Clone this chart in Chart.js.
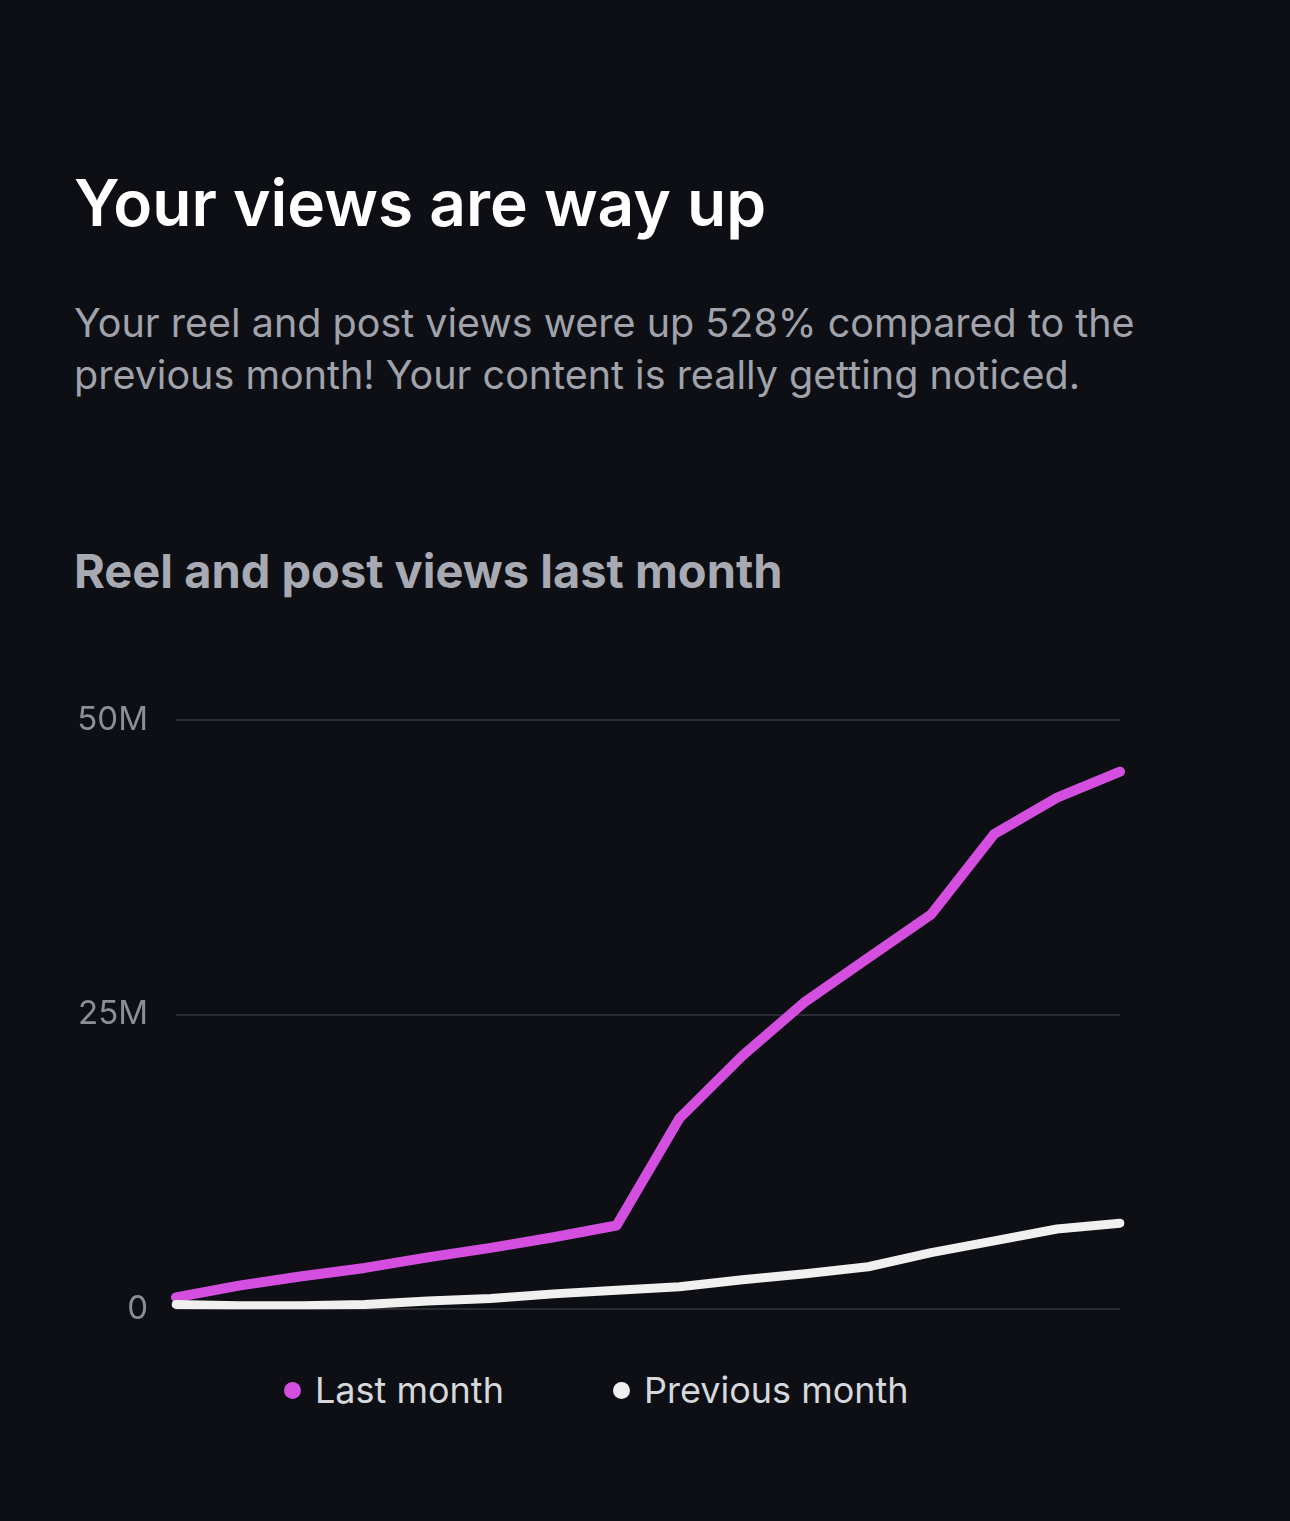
<!DOCTYPE html>
<html>
<head>
<meta charset="utf-8">
<script src="https://cdn.jsdelivr.net/npm/chart.js@4/dist/chart.umd.min.js"></script>
<style>
  html, body { margin: 0; padding: 0; background: #0e0f14; }
  body { width: 1290px; height: 1521px; position: relative; overflow: hidden; font-family: Inter, "Noto Sans", sans-serif; }
  .title { position: absolute; left: 74px; top: 164px; font-size: 64px; font-weight: 600; color: #ffffff; letter-spacing: 0px; }
  .sub { position: absolute; left: 74px; top: 297px; width: 1190px; font-size: 39.5px; line-height: 52px; color: #a0a3ab; }
  .heading { position: absolute; left: 74px; top: 542px; font-size: 47px; font-weight: 700; color: #a7aab2; letter-spacing: 0px; }
  #wrap { position: absolute; left: 0; top: 672px; width: 1290px; height: 685px; }
  .legend { position: absolute; top: 1368px; font-size: 36px; color: #d6d8dc; }
  .legend span.dot { display: inline-block; width: 17px; height: 17px; border-radius: 50%; margin-right: 14px; vertical-align: middle; position: relative; top: -3px; }
</style>
</head>
<body>
<div class="title">Your views are way up</div>
<div class="sub">Your reel and post views were up 528% compared to the previous month! Your content is really getting noticed.</div>
<div class="heading">Reel and post views last month</div>
<div id="wrap"><canvas id="myChart"></canvas></div>
<div class="legend" style="left:284px"><span class="dot" style="background:#d44fe0"></span>Last month</div>
<div class="legend" style="left:613px"><span class="dot" style="background:#f0f0f0"></span>Previous month</div>
<script>
const days = ["1","2","3","4","5","6","7","8","9","10","11","12","13","14","15","16"];
const lastMonth = [1.0, 2.0, 2.8, 3.5, 4.4, 5.2, 6.1, 7.1, 16.2, 21.5, 26.1, 29.8, 33.5, 40.3, 43.4, 45.6];
const previousMonth = [0.4, 0.3, 0.3, 0.4, 0.7, 0.9, 1.3, 1.6, 1.9, 2.5, 3.0, 3.6, 4.8, 5.8, 6.8, 7.3];
const tickLabels = { 0: "0", 25: "25M", 50: "50M" };

const ctx = document.getElementById("myChart").getContext("2d");
const myChart = new Chart(ctx, {
  type: "line",
  data: {
    labels: days,
    datasets: [
      { label: "Previous month", data: previousMonth, borderColor: "#f0f0f0", borderWidth: 9, pointRadius: 0, borderCapStyle: "round", borderJoinStyle: "round", tension: 0 },
      { label: "Last month", data: lastMonth, borderColor: "#d44fe0", borderWidth: 10, pointRadius: 0, borderCapStyle: "round", borderJoinStyle: "round", tension: 0 },
    ],
  },
  options: {
    responsive: true,
    maintainAspectRatio: false,
    animation: false,
    layout: { padding: { top: 18, bottom: 11, left: 0, right: 170 } },
    plugins: { legend: { display: false }, tooltip: { enabled: false } },
    scales: {
      x: { display: false, offset: false },
      y: {
        min: 0,
        max: 50,
        ticks: { stepSize: 25, padding: 28, color: "#8b8e96", font: { size: 33, family: "Inter" }, callback: (v) => tickLabels[v] },
        grid: { color: "#2a2c33", lineWidth: 2, drawTicks: false },
        border: { display: false },
        afterFit: (s) => { s.width = 176; },
      },
    },
  },
});
</script>
</body>
</html>
